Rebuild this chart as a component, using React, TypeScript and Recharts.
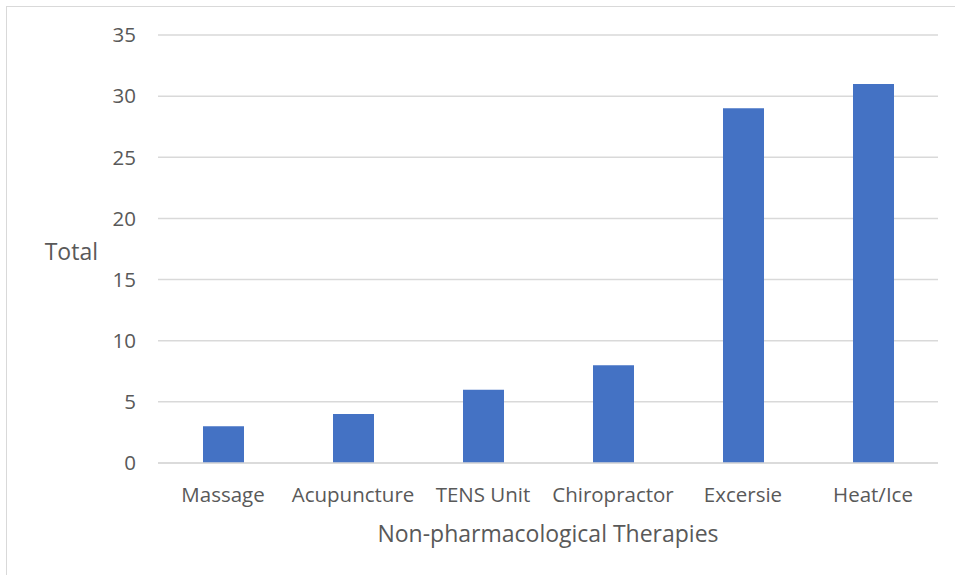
import { BarChart, Bar, XAxis, YAxis, CartesianGrid } from 'recharts'

const therapies = ['Massage', 'Acupuncture', 'TENS Unit', 'Chiropractor', 'Excersie', 'Heat/Ice']
const totals = [3, 4, 6, 8, 29, 31]
const yTicks = [0, 5, 10, 15, 20, 25, 30, 35]

const data = therapies.map((name, i) => ({ name, total: totals[i] }))

const font = 'Open Sans, sans-serif'
const grey = '#595959'

export default function App() {
  return (
    <div style={{ position: 'fixed', left: 0, top: 0, width: 955, height: 575, background: '#fff', fontFamily: font }}>
      <div style={{ position: 'absolute', left: 6, top: 6, width: 960, height: 580, border: '1px solid #d9d9d9' }} />
      <div style={{ position: 'absolute', left: 0, top: 0 }}>
        <BarChart width={955} height={575} data={data} margin={{ top: 35, right: 17, bottom: 62, left: 100 }}>
          <CartesianGrid vertical={false} stroke='#d9d9d9' strokeWidth={1.5} />
          <XAxis
            dataKey='name'
            height={50}
            tickSize={0}
            tickMargin={24}
            axisLine={{ stroke: '#d9d9d9', strokeWidth: 1.5 }}
            tick={{ fill: grey, fontSize: 20.5, fontFamily: font }}
            label={{ value: 'Non-pharmacological Therapies', position: 'bottom', offset: 13, fill: grey, fontSize: 23, fontFamily: font }}
          />
          <YAxis
            width={58}
            domain={[0, 35]}
            ticks={yTicks}
            tickSize={0}
            tickMargin={22}
            axisLine={false}
            tick={{ fill: grey, fontSize: 20.5, fontFamily: font }}
            label={{ value: 'Total', position: 'left', offset: 2, dy: 3, fill: grey, fontSize: 23, fontFamily: font, angle: 0 }}
          />
          <Bar dataKey='total' fill='#4472C4' barSize={41} isAnimationActive={false} />
        </BarChart>
      </div>
    </div>
  )
}
